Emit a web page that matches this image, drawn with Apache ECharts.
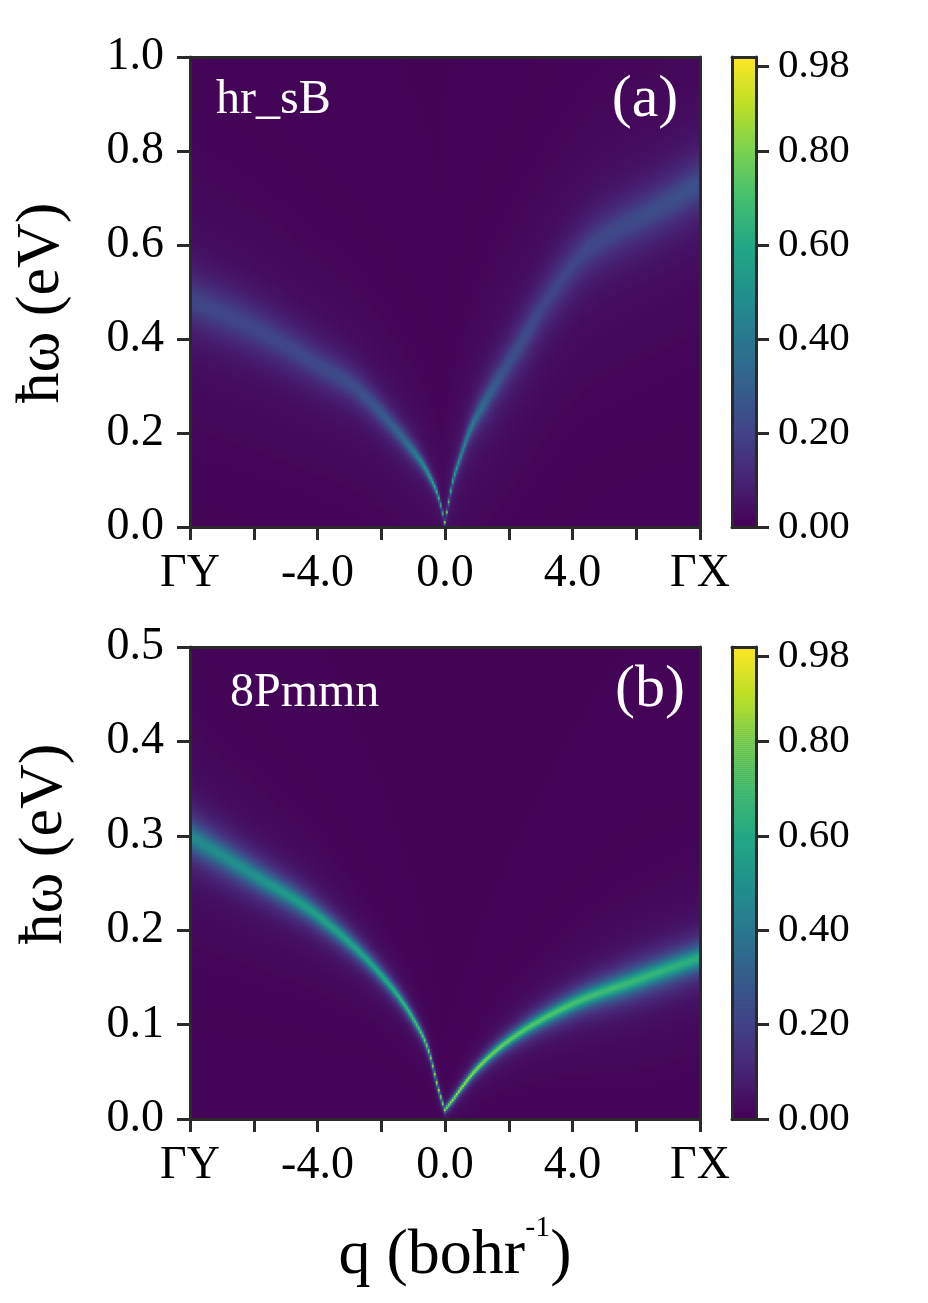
<!DOCTYPE html>
<html><head><meta charset="utf-8">
<script src="https://cdn.jsdelivr.net/npm/echarts@6/dist/echarts.min.js"></script>
<style>html,body{margin:0;padding:0;background:#fff}#c{width:928px;height:1303px}</style>
</head><body><div id="c"></div>
<script>
// ---------- values ----------
const qTickValues = [-8, -4, 0, 4, 8];
const qTickLabels = ['ΓY', '-4.0', '0.0', '4.0', 'ΓX'];
const cbTicks = [0, 0.2, 0.4, 0.6, 0.8, 0.98];
const cbTickLabels = ['0.00', '0.20', '0.40', '0.60', '0.80', '0.98'];
const panelNames = ['hr_sB', '8Pmmn'];
const panelTags = ['(a)', '(b)'];
const energyMax = [1.0, 0.5];

// panel (a) hr_sB : peak energy (eV), peak intensity, half width (eV) along q (bohr^-1)
const aLeftQ  = [-8, -6, -4, -2.8, -2, -1.2, -0.7, -0.45, -0.25, -0.1, 0];
const aLeftE  = [0.484, 0.424, 0.346, 0.296, 0.243, 0.18, 0.135, 0.105, 0.075, 0.04, 0.01];
const aLeftA  = [0.18, 0.18, 0.19, 0.21, 0.25, 0.33, 0.45, 0.55, 0.65, 0.72, 0.85];
const aLeftW  = [0.048, 0.044, 0.036, 0.03, 0.024, 0.017, 0.011, 0.008, 0.006, 0.004, 0.003];
const aRightQ = [0, 0.1, 0.26, 0.4, 0.78, 1.41, 2.04, 2.56, 3.14, 4.0, 4.55, 5.6, 6.43, 8];
const aRightE = [0.01, 0.045, 0.10, 0.13, 0.204, 0.282, 0.352, 0.41, 0.475, 0.555, 0.595, 0.64, 0.669, 0.73];
const aRightA = [0.85, 0.72, 0.6, 0.5, 0.38, 0.27, 0.2, 0.19, 0.16, 0.16, 0.17, 0.18, 0.19, 0.21];
const aRightW = [0.003, 0.004, 0.007, 0.009, 0.015, 0.026, 0.034, 0.038, 0.042, 0.044, 0.044, 0.044, 0.044, 0.044];
const aBackground = 0.01;
const aGlow = [0.02, 0.035];   // faint broad halo, left / right branch

// panel (b) 8Pmmn
const bLeftQ  = [-8, -6, -4, -2, -1, -0.5, -0.2, 0];
const bLeftE  = [0.300, 0.259, 0.216, 0.153, 0.107, 0.072, 0.032, 0.01];
const bLeftA  = [0.46, 0.5, 0.56, 0.6, 0.7, 0.82, 0.9, 0.9];
const bLeftW  = [0.016, 0.013, 0.01, 0.0065, 0.0045, 0.003, 0.0025, 0.002];
const bRightQ = [0, 0.2, 0.5, 1, 2, 4, 6, 8];
const bRightE = [0.01, 0.018, 0.032, 0.053, 0.083, 0.122, 0.147, 0.171];
const bRightA = [0.9, 0.9, 0.9, 0.85, 0.76, 0.7, 0.66, 0.62];
const bRightW = [0.002, 0.0025, 0.003, 0.0038, 0.0055, 0.0085, 0.011, 0.012];
const bBackground = 0.01;
const bGlow = [0.0, 0.0];

// ---------- style ----------
const VIRIDIS = ['#440154','#482475','#414487','#355f8d','#2a788e','#21918c','#22a884','#44bf70','#7ad151','#bddf26','#fde725'];
const FONT = '"Liberation Serif", "Times New Roman", serif';
const INK = '#2a2a2a';
const NQ = 255, NWS = [235, 236], NCB = 235;

// monotone cubic (Fritsch-Carlson) through the read points
function mono(xs, ys) {
  const n = xs.length, d = [], m = [];
  for (let i = 0; i < n - 1; i++) d.push((ys[i+1] - ys[i]) / (xs[i+1] - xs[i]));
  m[0] = d[0]; m[n-1] = d[n-2];
  for (let i = 1; i < n - 1; i++) m[i] = (d[i-1] * d[i] <= 0) ? 0 : (d[i-1] + d[i]) / 2;
  for (let i = 0; i < n - 1; i++) {
    if (d[i] === 0) { m[i] = 0; m[i+1] = 0; continue; }
    const a = m[i] / d[i], b = m[i+1] / d[i], s = a * a + b * b;
    if (s > 9) { const t = 3 / Math.sqrt(s); m[i] = t * a * d[i]; m[i+1] = t * b * d[i]; }
  }
  return x => {
    if (x <= xs[0]) return ys[0];
    if (x >= xs[n-1]) return ys[n-1];
    let i = 0; while (x > xs[i+1]) i++;
    const h = xs[i+1] - xs[i], t = (x - xs[i]) / h, t2 = t * t, t3 = t2 * t;
    return (2*t3 - 3*t2 + 1) * ys[i] + (t3 - 2*t2 + t) * h * m[i] + (-2*t3 + 3*t2) * ys[i+1] + (t3 - t2) * h * m[i+1];
  };
}
function branch(q, E, A, W) { return {E: mono(q, E), A: mono(q, A), W: mono(q, W)}; }
function buildMap(L, R, eMax, nw, bg, glow) {
  const out = [], h = eMax / nw, dq = 16 / NQ, G = 0.12 * eMax;
  for (let i = 0; i < NQ; i++) {
    const q = -8 + (i + 0.5) * dq;
    const br = q < 0 ? L : R, ga = q < 0 ? glow[0] : glow[1];
    const E = br.E(q), A = br.A(q), g = Math.max(br.W(q), 0.5 * h);
    for (let j = 0; j < nw; j++) {
      const w = (j + 0.5) * h, d = w - E;
      const v = bg + A * g * g / (d * d + g * g) + ga * G * G / (d * d + G * G);
      out.push([i, j, Math.min(v, 0.995)]);
    }
  }
  return out;
}
const maps = [
  buildMap(branch(aLeftQ, aLeftE, aLeftA, aLeftW), branch(aRightQ, aRightE, aRightA, aRightW), energyMax[0], NWS[0], aBackground, aGlow),
  buildMap(branch(bLeftQ, bLeftE, bLeftA, bLeftW), branch(bRightQ, bRightE, bRightA, bRightW), energyMax[1], NWS[1], bBackground, bGlow)
];
const cbData = []; for (let j = 0; j < NCB; j++) cbData.push([0, j, (j + 0.5) / NCB]);
const qCats = []; for (let i = 0; i < NQ; i++) qCats.push((-8 + (i + 0.5) * 16 / NQ).toFixed(3));
const cbCats = []; for (let j = 0; j < NCB; j++) cbCats.push(String(j));

// ---------- layout ----------
const panels = [{top: 57, height: 470}, {top: 647, height: 472}];
const line = {show: true, onZero: false, lineStyle: {color: INK, width: 3}};
const frameAxis = (type, gi, pos, min, max) => ({type, gridIndex: gi, position: pos, min, max, z: 10,
  axisLine: line, axisTick: {show: false}, axisLabel: {show: false}, splitLine: {show: false}});

const grids = [], xAxes = [], yAxes = [], series = [];
panels.forEach((p, k) => {
  const gMain = grids.length;
  grids.push({left: 190, top: p.top, width: 510, height: p.height, show: true, backgroundColor: '#440154', borderWidth: 0});
  const gCb = grids.length;
  grids.push({left: 732, top: p.top, width: 24, height: p.height, show: true, backgroundColor: '#440154', borderWidth: 0});
  const wCats = []; for (let j = 0; j < NWS[k]; j++) wCats.push(String(j));
  const xCat = xAxes.length;
  xAxes.push({type: 'category', gridIndex: gMain, data: qCats, show: false});
  xAxes.push({type: 'value', gridIndex: gMain, position: 'bottom', min: -8, max: 8, interval: 2, z: 10,
    axisLine: line, splitLine: {show: false},
    axisTick: {show: true, inside: false, length: 13, lineStyle: {color: INK, width: 3}},
    axisLabel: {margin: 24, color: '#000', fontFamily: FONT, fontSize: 46,
      formatter: v => { const t = qTickValues.indexOf(Math.round(v * 1000) / 1000); return t >= 0 ? qTickLabels[t] : ''; }}});
  xAxes.push(frameAxis('value', gMain, 'top', -8, 8));
  const yCat = yAxes.length;
  yAxes.push({type: 'category', gridIndex: gMain, data: wCats, show: false});
  yAxes.push({type: 'value', gridIndex: gMain, position: 'left', min: 0, max: energyMax[k], interval: energyMax[k] / 5, z: 10,
    axisLine: line, splitLine: {show: false},
    axisTick: {show: true, inside: false, length: 13, lineStyle: {color: INK, width: 3}},
    axisLabel: {margin: 26, color: '#000', fontFamily: FONT, fontSize: 46, formatter: v => v.toFixed(1)}});
  yAxes.push(frameAxis('value', gMain, 'right', 0, energyMax[k]));
  series.push({type: 'heatmap', xAxisIndex: xCat, yAxisIndex: yCat, data: maps[k],
    progressive: 0, animation: false, itemStyle: {borderWidth: 0}, emphasis: {disabled: true}});
  const xCbCat = xAxes.length;
  xAxes.push({type: 'category', gridIndex: gCb, data: ['c'], show: false});
  xAxes.push(frameAxis('value', gCb, 'bottom', 0, 1));
  xAxes.push(frameAxis('value', gCb, 'top', 0, 1));
  const yCbCat = yAxes.length;
  yAxes.push({type: 'category', gridIndex: gCb, data: cbCats, show: false});
  yAxes.push({type: 'value', gridIndex: gCb, position: 'right', min: 0, max: 1, z: 10,
    axisLine: line, splitLine: {show: false},
    axisTick: {show: true, inside: false, length: 13, customValues: cbTicks, lineStyle: {color: INK, width: 3}},
    axisLabel: {margin: 22, color: '#000', fontFamily: FONT, fontSize: 41, customValues: cbTicks,
      formatter: v => { let best = 0; cbTicks.forEach((t, i) => { if (Math.abs(t - v) < Math.abs(cbTicks[best] - v)) best = i; }); return cbTickLabels[best]; }}});
  yAxes.push(frameAxis('value', gCb, 'left', 0, 1));
  series.push({type: 'heatmap', xAxisIndex: xCbCat, yAxisIndex: yCbCat, data: cbData,
    progressive: 0, animation: false, itemStyle: {borderWidth: 0}, emphasis: {disabled: true}});
});

// x-axis title with superscript
const mctx = document.createElement('canvas').getContext('2d');
mctx.font = '64px ' + FONT; const w1 = mctx.measureText('q (bohr').width, w3 = mctx.measureText(')').width;
mctx.font = '30px ' + FONT; const w2 = mctx.measureText('-1').width;
const xt0 = 455 - (w1 + w2 + w3) / 2;

const graphics = [
  {type: 'text', x: 216, y: 100, z: 20, style: {text: panelNames[0], font: '48px ' + FONT, fill: '#fff', align: 'left', verticalAlign: 'middle'}},
  {type: 'text', x: 645, y: 100, z: 20, style: {text: panelTags[0], font: '60px ' + FONT, fill: '#fff', align: 'center', verticalAlign: 'middle'}},
  {type: 'text', x: 230, y: 693, z: 20, style: {text: panelNames[1], font: '48px ' + FONT, fill: '#fff', align: 'left', verticalAlign: 'middle'}},
  {type: 'text', x: 650, y: 690, z: 20, style: {text: panelTags[1], font: '60px ' + FONT, fill: '#fff', align: 'center', verticalAlign: 'middle'}},
  {type: 'text', x: 42, y: 303, rotation: Math.PI / 2, z: 20, style: {text: 'ħω (eV)', font: '62px ' + FONT, fill: '#000', align: 'center', verticalAlign: 'middle'}},
  {type: 'text', x: 45, y: 844, rotation: Math.PI / 2, z: 20, style: {text: 'ħω (eV)', font: '62px ' + FONT, fill: '#000', align: 'center', verticalAlign: 'middle'}},
  {type: 'text', x: xt0, y: 1256, z: 20, style: {text: 'q (bohr', font: '64px ' + FONT, fill: '#000', align: 'left', verticalAlign: 'middle'}},
  {type: 'text', x: xt0 + w1, y: 1228, z: 20, style: {text: '-1', font: '30px ' + FONT, fill: '#000', align: 'left', verticalAlign: 'middle'}},
  {type: 'text', x: xt0 + w1 + w2, y: 1256, z: 20, style: {text: ')', font: '64px ' + FONT, fill: '#000', align: 'left', verticalAlign: 'middle'}}
];

const chart = echarts.init(document.getElementById('c'), null, {renderer: 'canvas'});
chart.setOption({
  animation: false,
  backgroundColor: '#fff',
  grid: grids, xAxis: xAxes, yAxis: yAxes, series,
  visualMap: {type: 'continuous', show: false, min: 0, max: 1, dimension: 2, seriesIndex: [0, 1, 2, 3], inRange: {color: VIRIDIS}},
  graphic: graphics
});
</script></body></html>
